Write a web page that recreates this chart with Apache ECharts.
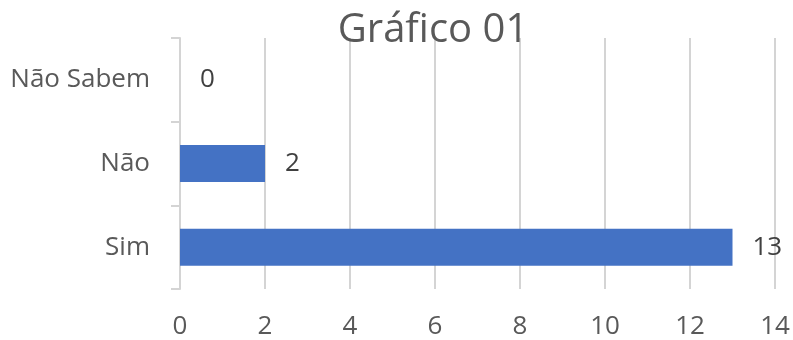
<!DOCTYPE html>
<html><head><meta charset="utf-8">
<script src="https://cdn.jsdelivr.net/npm/echarts@6/dist/echarts.min.js"></script>
<style>html,body{margin:0;padding:0;background:#fff}#c{width:793px;height:340px}</style>
</head><body><div id="c"></div>
<script>
const categories = ['Sim', 'Não', 'Não Sabem'];
const values = [13, 2, 0];
const titleText = 'Gráfico 01';
const xMin = 0, xMax = 14, xStep = 2;

const chart = echarts.init(document.getElementById('c'));
const font = 'Open Sans';
chart.setOption({
  animation: false,
  title: {
    text: titleText, left: 428, top: 6, textAlign: 'center',
    textStyle: { fontFamily: font, fontSize: 40, fontWeight: 'normal', color: '#595959' }
  },
  grid: { left: 180, right: 18, top: 38, bottom: 50, containLabel: false },
  xAxis: {
    type: 'value', min: xMin, max: xMax, interval: xStep,
    axisLine: { show: false }, axisTick: { show: false },
    splitLine: { show: true, lineStyle: { color: '#d4d4d4', width: 2 } },
    axisLabel: { fontFamily: font, fontSize: 26, color: '#595959', margin: 25 }
  },
  yAxis: {
    type: 'category', data: categories,
    axisLine: { show: true, lineStyle: { color: '#d4d4d4', width: 2 } },
    axisTick: { show: true, length: 9, lineStyle: { color: '#d4d4d4', width: 2 } },
    axisLabel: { fontFamily: font, fontSize: 26, color: '#595959', margin: 30 }
  },
  series: [{
    type: 'bar', data: values, barWidth: 37,
    itemStyle: { color: '#4472C4' },
    label: { show: true, position: 'right', distance: 20, fontFamily: font, fontSize: 26, color: '#404040' }
  }]
});
</script></body></html>
